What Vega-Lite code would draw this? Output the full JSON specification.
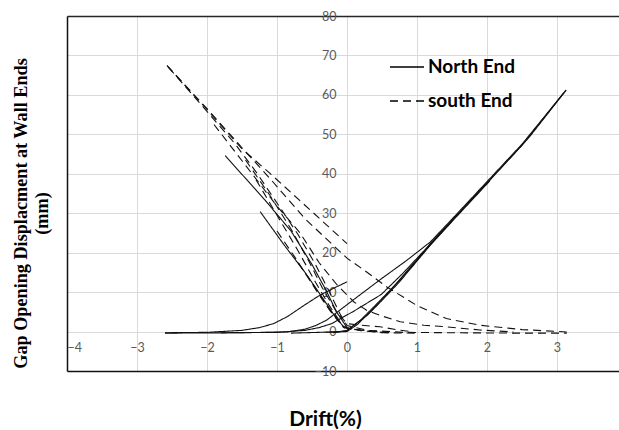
{
  "$schema": "https://vega.github.io/schema/vega-lite/v6.json",
  "width": 552,
  "height": 355,
  "autosize": {"type": "none"},
  "padding": {"left": 67, "top": 16, "right": 0, "bottom": 59},
  "background": "white",
  "config": {
    "view": {"stroke": null},
    "axis": {"labelFont": "Lato", "labelFontSize": 12.5, "labelColor": "#595959", "titleFontWeight": "bold", "titleColor": "#000"}
  },
  "datasets": {
    "d": [
      {"s":"N1","e":"North End","x":-2.6,"y":-0.3},{"s":"N1","e":"North End","x":-2.0,"y":-0.2},{"s":"N1","e":"North End","x":-1.5,"y":0.3},{"s":"N1","e":"North End","x":-1.25,"y":1.0},{"s":"N1","e":"North End","x":-1.05,"y":2.0},{"s":"N1","e":"North End","x":-0.85,"y":3.8},{"s":"N1","e":"North End","x":-0.6,"y":6.8},{"s":"N1","e":"North End","x":-0.39,"y":9.2},{"s":"N1","e":"North End","x":-0.2,"y":10.9},{"s":"N1","e":"North End","x":0.0,"y":12.6},
      {"s":"N2","e":"North End","x":-2.6,"y":-0.4},{"s":"N2","e":"North End","x":-2.0,"y":-0.35},{"s":"N2","e":"North End","x":-1.5,"y":-0.3},{"s":"N2","e":"North End","x":-0.85,"y":-0.1},{"s":"N2","e":"North End","x":-0.6,"y":0.6},{"s":"N2","e":"North End","x":-0.45,"y":1.5},{"s":"N2","e":"North End","x":-0.29,"y":2.9},{"s":"N2","e":"North End","x":0.2,"y":9.5},{"s":"N2","e":"North End","x":0.5,"y":13.5},{"s":"N2","e":"North End","x":0.85,"y":18.0},{"s":"N2","e":"North End","x":1.19,"y":22.7},{"s":"N2","e":"North End","x":1.5,"y":28.5},{"s":"N2","e":"North End","x":2.0,"y":38.0},{"s":"N2","e":"North End","x":2.5,"y":47.5},{"s":"N2","e":"North End","x":3.13,"y":61.2},
      {"s":"N3","e":"North End","x":-1.8,"y":-0.3},{"s":"N3","e":"North End","x":-1.0,"y":-0.2},{"s":"N3","e":"North End","x":-0.6,"y":0.3},{"s":"N3","e":"North End","x":-0.4,"y":1.0},{"s":"N3","e":"North End","x":-0.22,"y":2.0},{"s":"N3","e":"North End","x":0.1,"y":5.2},{"s":"N3","e":"North End","x":0.49,"y":9.4},{"s":"N3","e":"North End","x":0.8,"y":14.8},{"s":"N3","e":"North End","x":1.16,"y":21.6},{"s":"N3","e":"North End","x":1.5,"y":28.2},{"s":"N3","e":"North End","x":2.0,"y":37.6},{"s":"N3","e":"North End","x":2.5,"y":47.2},{"s":"N3","e":"North End","x":3.1,"y":60.6},
      {"s":"N4","e":"North End","x":-0.8,"y":-0.4},{"s":"N4","e":"North End","x":-0.4,"y":-0.2},{"s":"N4","e":"North End","x":-0.1,"y":0.0},{"s":"N4","e":"North End","x":0.0,"y":0.3},{"s":"N4","e":"North End","x":0.2,"y":3.0},{"s":"N4","e":"North End","x":0.38,"y":6.2},{"s":"N4","e":"North End","x":0.71,"y":12.2},{"s":"N4","e":"North End","x":1.0,"y":18.0},{"s":"N4","e":"North End","x":1.19,"y":22.3},{"s":"N4","e":"North End","x":1.6,"y":30.0},{"s":"N4","e":"North End","x":2.03,"y":38.3},{"s":"N4","e":"North End","x":2.6,"y":49.2},{"s":"N4","e":"North End","x":3.13,"y":61.2},
      {"s":"N5","e":"North End","x":-0.3,"y":-0.2},{"s":"N5","e":"North End","x":0.0,"y":0.0},{"s":"N5","e":"North End","x":0.15,"y":1.8},{"s":"N5","e":"North End","x":0.38,"y":5.9},{"s":"N5","e":"North End","x":0.6,"y":10.0},{"s":"N5","e":"North End","x":1.0,"y":18.3},{"s":"N5","e":"North End","x":1.5,"y":27.9},{"s":"N5","e":"North End","x":2.04,"y":38.2},
      {"s":"N6","e":"North End","x":-0.2,"y":-0.3},{"s":"N6","e":"North End","x":0.0,"y":0.2},{"s":"N6","e":"North End","x":0.3,"y":4.3},{"s":"N6","e":"North End","x":0.5,"y":7.9},{"s":"N6","e":"North End","x":0.75,"y":12.6},{"s":"N6","e":"North End","x":1.0,"y":17.9},{"s":"N6","e":"North End","x":1.2,"y":22.1},{"s":"N6","e":"North End","x":1.5,"y":28.0},
      {"s":"N7","e":"North End","x":-1.74,"y":44.6},{"s":"N7","e":"North End","x":-1.17,"y":33.3},{"s":"N7","e":"North End","x":-0.8,"y":25.5},{"s":"N7","e":"North End","x":-0.5,"y":17.0},{"s":"N7","e":"North End","x":-0.3,"y":10.5},{"s":"N7","e":"North End","x":-0.15,"y":5.0},{"s":"N7","e":"North End","x":0.0,"y":1.0},
      {"s":"N8","e":"North End","x":-1.24,"y":30.4},{"s":"N8","e":"North End","x":-0.9,"y":22.0},{"s":"N8","e":"North End","x":-0.6,"y":15.0},{"s":"N8","e":"North End","x":-0.39,"y":9.6},{"s":"N8","e":"North End","x":-0.2,"y":4.6},{"s":"N8","e":"North End","x":-0.03,"y":0.8},
      {"s":"S1","e":"south End","x":-2.57,"y":67.4},{"s":"S1","e":"south End","x":-2.0,"y":56.5},{"s":"S1","e":"south End","x":-1.5,"y":46.6},{"s":"S1","e":"south End","x":-1.1,"y":38.8},{"s":"S1","e":"south End","x":-0.6,"y":28.6},{"s":"S1","e":"south End","x":0.0,"y":18.6},{"s":"S1","e":"south End","x":0.25,"y":15.5},{"s":"S1","e":"south End","x":0.57,"y":11.3},{"s":"S1","e":"south End","x":1.0,"y":6.6},{"s":"S1","e":"south End","x":1.42,"y":3.3},{"s":"S1","e":"south End","x":1.9,"y":1.6},{"s":"S1","e":"south End","x":2.5,"y":0.5},{"s":"S1","e":"south End","x":3.14,"y":-0.1},
      {"s":"S2","e":"south End","x":-2.57,"y":67.4},{"s":"S2","e":"south End","x":-2.0,"y":56.3},{"s":"S2","e":"south End","x":-1.5,"y":46.3},{"s":"S2","e":"south End","x":-1.1,"y":40.1},{"s":"S2","e":"south End","x":-0.5,"y":30.4},{"s":"S2","e":"south End","x":0.0,"y":22.3},
      {"s":"S3","e":"south End","x":-2.55,"y":67.0},{"s":"S3","e":"south End","x":-2.0,"y":55.8},{"s":"S3","e":"south End","x":-1.6,"y":47.6},{"s":"S3","e":"south End","x":-1.3,"y":40.5},{"s":"S3","e":"south End","x":-1.0,"y":32.6},{"s":"S3","e":"south End","x":-0.7,"y":24.6},{"s":"S3","e":"south End","x":-0.45,"y":17.0},{"s":"S3","e":"south End","x":-0.25,"y":10.0},{"s":"S3","e":"south End","x":-0.1,"y":4.5},{"s":"S3","e":"south End","x":0.0,"y":1.5},{"s":"S3","e":"south End","x":0.3,"y":0.3},{"s":"S3","e":"south End","x":0.8,"y":-0.2},{"s":"S3","e":"south End","x":1.5,"y":-0.3},{"s":"S3","e":"south End","x":2.5,"y":-0.4},{"s":"S3","e":"south End","x":3.14,"y":-0.4},
      {"s":"S4","e":"south End","x":-1.9,"y":52.5},{"s":"S4","e":"south End","x":-1.5,"y":43.3},{"s":"S4","e":"south End","x":-1.0,"y":31.8},{"s":"S4","e":"south End","x":-0.67,"y":25.0},{"s":"S4","e":"south End","x":-0.4,"y":17.5},{"s":"S4","e":"south End","x":-0.15,"y":12.0},{"s":"S4","e":"south End","x":0.1,"y":7.5},{"s":"S4","e":"south End","x":0.28,"y":5.4},{"s":"S4","e":"south End","x":0.47,"y":4.1},{"s":"S4","e":"south End","x":0.76,"y":2.5},{"s":"S4","e":"south End","x":1.1,"y":1.6},{"s":"S4","e":"south End","x":1.42,"y":1.2},{"s":"S4","e":"south End","x":1.9,"y":0.4},{"s":"S4","e":"south End","x":2.38,"y":-0.1},
      {"s":"S5","e":"south End","x":-1.45,"y":43.5},{"s":"S5","e":"south End","x":-1.1,"y":34.5},{"s":"S5","e":"south End","x":-0.8,"y":26.0},{"s":"S5","e":"south End","x":-0.55,"y":18.0},{"s":"S5","e":"south End","x":-0.35,"y":11.0},{"s":"S5","e":"south End","x":-0.15,"y":5.0},{"s":"S5","e":"south End","x":0.0,"y":2.0},{"s":"S5","e":"south End","x":0.2,"y":1.6},{"s":"S5","e":"south End","x":0.47,"y":1.2},{"s":"S5","e":"south End","x":0.7,"y":0.5},{"s":"S5","e":"south End","x":0.95,"y":-0.1},
      {"s":"S6","e":"south End","x":-1.3,"y":38.5},{"s":"S6","e":"south End","x":-1.0,"y":29.5},{"s":"S6","e":"south End","x":-0.7,"y":20.5},{"s":"S6","e":"south End","x":-0.45,"y":12.5},{"s":"S6","e":"south End","x":-0.25,"y":6.5},{"s":"S6","e":"south End","x":-0.05,"y":1.2},{"s":"S6","e":"south End","x":0.2,"y":0.2},{"s":"S6","e":"south End","x":0.6,"y":-0.3},
      {"s":"S7","e":"south End","x":-1.0,"y":25.5},{"s":"S7","e":"south End","x":-0.75,"y":19.0},{"s":"S7","e":"south End","x":-0.55,"y":13.5},{"s":"S7","e":"south End","x":-0.35,"y":8.0},{"s":"S7","e":"south End","x":-0.15,"y":3.2},{"s":"S7","e":"south End","x":0.0,"y":0.8},{"s":"S7","e":"south End","x":0.3,"y":0.2},{"s":"S7","e":"south End","x":0.6,"y":-0.3},
      {"s":"S8","e":"south End","x":-0.7,"y":17.5},{"s":"S8","e":"south End","x":-0.45,"y":11.0},{"s":"S8","e":"south End","x":-0.25,"y":5.5},{"s":"S8","e":"south End","x":-0.05,"y":1.0},{"s":"S8","e":"south End","x":0.2,"y":0.3},{"s":"S8","e":"south End","x":0.5,"y":-0.3},{"s":"S8","e":"south End","x":1.0,"y":-0.4}
    ]
  },
  "data": {"name": "d"},
  "resolve": {"axis": {"x": "independent", "y": "independent"}},
  "layer": [
    {
      "mark": {"type": "line", "color": "#111", "strokeWidth": 1.1},
      "encoding": {
        "x": {"field": "x", "type": "quantitative", "scale": {"domain": [-4, 3.886], "nice": false, "zero": false},
          "axis": {"orient": "bottom", "offset": -39.4, "values": [-4, -3, -2, -1, 0, 1, 2, 3], "domain": false, "ticks": false, "labelPadding": 10, "grid": true, "gridColor": "#d9d9d9", "gridWidth": 1,
            "title": "Drift(%)", "titleFont": "Lato", "titleFontSize": 21, "titleX": 258, "titleY": 94, "titleBaseline": "alphabetic", "titleAlign": "center"}},
        "y": {"field": "y", "type": "quantitative", "scale": {"domain": [-10, 80], "nice": false, "zero": false},
          "axis": {"orient": "left", "offset": -280, "values": [-10, 0, 10, 20, 30, 40, 50, 60, 70, 80], "domain": false, "ticks": false, "labelPadding": 11, "grid": true, "gridColor": "#d9d9d9", "gridWidth": 1,
            "title": ["Gap Opening Displacment at Wall Ends", "(mm)"], "titleFont": "Liberation Serif", "titleFontSize": 18.2, "titleAngle": -90, "titleX": -326, "titleY": 197, "titleBaseline": "middle", "titleAlign": "center", "titleLineHeight": 21}},
        "detail": {"field": "s"},
        "order": {"value": null},
        "strokeDash": {"field": "e", "type": "nominal", "scale": {"domain": ["North End", "south End"], "range": [[1, 0], [8, 5]]},
          "legend": {"orient": "none", "legendX": 322, "legendY": 33, "title": null, "symbolType": "stroke", "symbolSize": 1156, "symbolStrokeWidth": 1.3, "symbolStrokeColor": "#000", "labelFont": "Lato", "labelFontSize": 19, "labelFontWeight": "bold", "labelColor": "#000", "labelOffset": 3, "rowPadding": 6, "padding": 0}}
      }
    },
    {
      "mark": {"type": "point", "opacity": 0},
      "encoding": {
        "x": {"field": "x", "type": "quantitative", "scale": {"domain": [-4, 3.886], "nice": false, "zero": false},
          "axis": {"orient": "top", "domain": true, "domainColor": "#262626", "domainWidth": 1.5, "labels": false, "ticks": false, "grid": false, "title": null}},
        "y": {"field": "y", "type": "quantitative", "scale": {"domain": [-10, 80], "nice": false, "zero": false},
          "axis": {"orient": "left", "offset": 0, "domain": true, "domainColor": "#111", "domainWidth": 1.5, "labels": false, "ticks": false, "grid": false, "title": null}}
      }
    },
    {
      "mark": {"type": "point", "opacity": 0},
      "encoding": {
        "x": {"field": "x", "type": "quantitative", "scale": {"domain": [-4, 3.886], "nice": false, "zero": false},
          "axis": {"orient": "bottom", "offset": 0, "domain": true, "domainColor": "#111", "domainWidth": 1.5, "labels": false, "ticks": false, "grid": false, "title": null}},
        "y": {"field": "y", "type": "quantitative", "axis": null}
      }
    }
  ]
}
